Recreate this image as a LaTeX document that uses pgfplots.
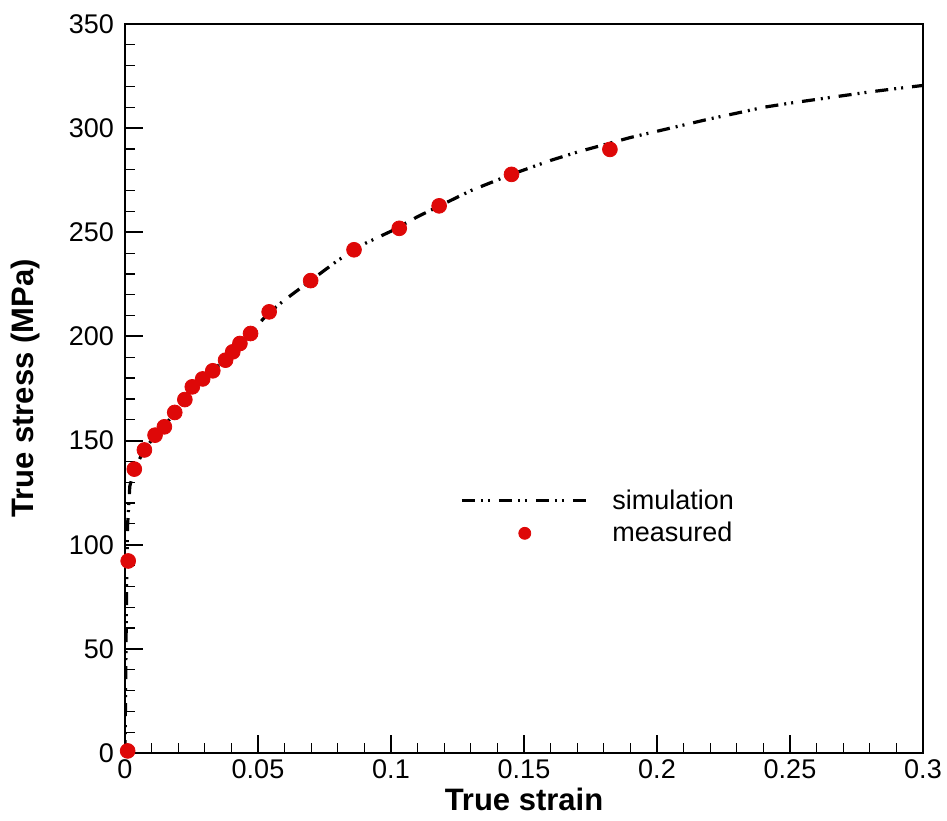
\documentclass[border=0pt]{standalone}
\usepackage{pgfplots}
\pgfplotsset{compat=1.18}
\usepackage{fontspec}
\setmainfont{Liberation Sans}
\definecolor{mred}{RGB}{222,8,8}
\pgfplotsset{
  simleg/.style={legend image code/.code={\draw[##1] (0pt,0pt) -- (63pt,0pt); \path (72.5pt,0pt);}},
  dotleg/.style={legend image code/.code={\draw[##1, mark size=3pt] plot coordinates {(31.5pt,0pt)}; \path (0pt,0pt) (72.5pt,0pt);}},
}

\begin{document}
\begin{tikzpicture}
\useasboundingbox (-62.5pt,-33.5pt) rectangle (411pt,376.5pt);
\begin{axis}[
  at={(0pt,0pt)}, anchor=south west,
  scale only axis, width=399pt, height=364.5pt,
  xmin=0, xmax=0.3, ymin=0, ymax=350,
  xtick={0,0.05,...,0.3}, ytick={0,50,...,350},
  minor x tick num=4, minor y tick num=4,
  tick pos=left, tick align=inside,
  major tick length=9pt, minor tick length=5pt,
  every major tick/.append style={line width=1pt, black},
  every minor tick/.append style={line width=0.6pt, black},
  axis line style={line width=1.1pt},
  scaled x ticks=false,
  xticklabel style={/pgf/number format/fixed, /pgf/number format/precision=2},
  /pgf/number format/assume math mode=true,
  tick label style={font=\fontsize{13.5}{16}\selectfont},
  yticklabel style={xshift=-2pt},
  xlabel={\textbf{True strain}},
  ylabel={\textbf{True stress (MPa)}},
  every axis x label/.style={at={(axis description cs:0.5,0)}, anchor=center,
    yshift=-23pt, font=\fontsize{15.5}{18}\selectfont},
  every axis y label/.style={at={(axis description cs:0,0.5)}, anchor=center,
    xshift=-50pt, rotate=90, font=\fontsize{15.5}{18}\selectfont},
  legend style={draw=none, fill=none, at={(0.412,0.373)}, anchor=north west,
    font=\fontsize{13.5}{16}\selectfont, row sep=1pt},
  legend cell align=left,
]
% finite-element prediction
\addplot[black, line width=1.6pt,
  dash pattern=on 6.5pt off 3pt on 1pt off 2.5pt on 1pt off 4.5pt, simleg]
  coordinates {
  (0,0) (0.0003,40) (0.0006,80) (0.001,110) (0.0018,128) (0.0035,136.5)
  (0.0073,145.5) (0.0113,152.5) (0.0148,157) (0.0187,163.5) (0.0225,169.8)
  (0.0253,175.3) (0.0292,179.8) (0.033,183.8) (0.0378,189) (0.0405,192.6)
  (0.0432,196.6) (0.0472,201.8) (0.0542,211.5) (0.06,217.5) (0.07,227)
  (0.08,236.5) (0.09,244.5) (0.1,250.5) (0.11,257.5) (0.118,262.5)
  (0.13,270) (0.1453,277.8) (0.16,284.5) (0.17,288.5) (0.18,292)
  (0.19,295.5) (0.2,298.5) (0.21,301.5) (0.22,304.5) (0.23,307.2)
  (0.24,310) (0.25,312) (0.26,313.8) (0.27,315.6) (0.28,317.4)
  (0.29,319) (0.3,320.5)
  };
\addlegendentry{simulation}
% tensile test data
\addplot[only marks, mark=*, mark size=3.7pt, color=mred, dotleg]
  coordinates {
  (0.001,1) (0.0012,92.2) (0.0035,136.3) (0.0073,145.5) (0.0113,152.6)
  (0.0148,156.6) (0.0187,163.5) (0.0225,169.7) (0.0253,175.8) (0.0292,179.6)
  (0.033,183.5) (0.0378,188.6) (0.0405,192.6) (0.0432,196.6) (0.0472,201.4)
  (0.0542,211.8) (0.0698,226.8) (0.0861,241.6) (0.1031,251.9) (0.1181,262.7)
  (0.1453,277.8) (0.1823,289.8)
  };
\addlegendentry{measured}
\end{axis}
\end{tikzpicture}
\end{document}
